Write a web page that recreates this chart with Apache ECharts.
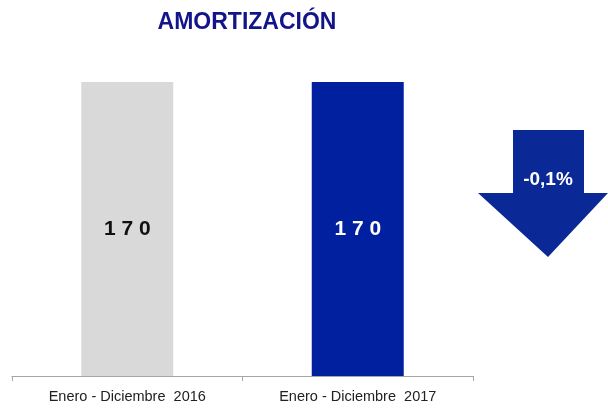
<!DOCTYPE html>
<html>
<head>
<meta charset="utf-8">
<script src="https://cdn.jsdelivr.net/npm/echarts@6/dist/echarts.min.js"></script>
<style>
  html, body { margin: 0; padding: 0; background: #fff; }
  #chart { width: 608px; height: 408px; }
</style>
</head>
<body>
<div id="chart"></div>
<script>
// Amortization, January-December, two years compared
const categories = ['Enero - Diciembre  2016', 'Enero - Diciembre  2017'];
const amortizacion = [170.2, 170.0];
const barColors = ['#d9d9d9', '#00209f'];
const labelColors = ['#111111', '#ffffff'];
const changeLabel = '-0,1%';

// Spread digits of the rounded value: 170 -> "1 7 0"
function spaced(v) {
  return String(Math.round(v)).split('').join(' ');
}

const chart = echarts.init(document.getElementById('chart'), null, { renderer: 'canvas' });

chart.setOption({
  animation: false,
  title: {
    text: 'AMORTIZACIÓN',
    left: 242,
    textAlign: 'center',
    top: 6,
    textStyle: { fontFamily: 'Liberation Sans, Arial, sans-serif', fontSize: 23, fontWeight: 'bold', color: '#14148a' }
  },
  grid: { left: 12, right: 135, top: 82, bottom: 32 },
  xAxis: {
    type: 'category',
    data: categories,
    axisLine: { lineStyle: { color: '#a6a6a6', width: 1 } },
    axisTick: { show: true, length: 5, lineStyle: { color: '#a6a6a6' } },
    axisLabel: {
      interval: 0,
      margin: 13,
      fontFamily: 'Liberation Sans, Arial, sans-serif',
      fontSize: 14.5,
      color: '#222'
    }
  },
  yAxis: { type: 'value', min: 0, max: 170, show: false, splitLine: { show: false } },
  series: [{
    type: 'bar',
    barWidth: 92,
    data: amortizacion.map((v, i) => ({
      value: v,
      itemStyle: { color: barColors[i] },
      label: { color: labelColors[i] }
    })),
    label: {
      show: true,
      position: 'inside',
      formatter: p => spaced(p.value),
      fontFamily: 'Liberation Sans, Arial, sans-serif',
      fontSize: 21,
      fontWeight: 'bold'
    }
  }],
  graphic: [
    {
      type: 'polygon',
      shape: {
        points: [[513, 130], [584, 130], [584, 193], [608, 193], [548, 257], [478, 193], [513, 193]]
      },
      style: { fill: '#0a2896' }
    },
    {
      type: 'text',
      x: 548, y: 180,
      style: {
        text: changeLabel,
        fill: '#ffffff',
        font: 'bold 19px Liberation Sans, Arial, sans-serif',
        textAlign: 'center',
        textVerticalAlign: 'middle'
      }
    }
  ]
});
</script>
</body>
</html>
